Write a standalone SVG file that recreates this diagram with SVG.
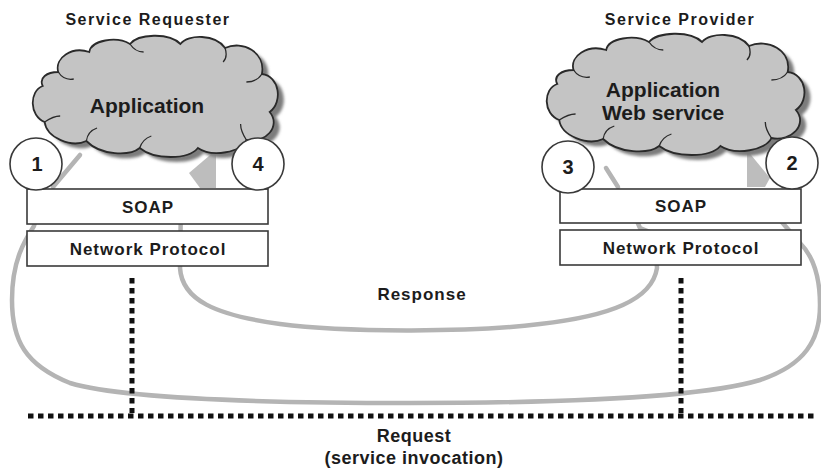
<svg xmlns="http://www.w3.org/2000/svg" width="821" height="468" viewBox="0 0 821 468">
<style>
.t{font-family:"Liberation Sans",Arial,sans-serif;font-weight:bold;fill:#1c1c1c;text-anchor:middle}
.ttl{font-size:16px;letter-spacing:1.5px}
.box{fill:#fff;stroke:#3a3a3a;stroke-width:1.6}
.lbl{font-size:17px;letter-spacing:1px}
.app{font-size:21px}
.num{font-size:20px}
.circ{fill:#fff;stroke:#3a3a3a;stroke-width:1.6}
.cloud{fill:#c4c4c4;stroke:#2a2a2a;stroke-width:1.8}
.shadow{fill:#7c7c7c;filter:url(#blur)}
.puff{fill:none;stroke:#2a2a2a;stroke-width:1.3}
.flow{fill:none;stroke:#b4b4b4;stroke-width:4.5;stroke-linecap:round;stroke-linejoin:round}
.arr{fill:#bdbdbd}
.dot{stroke:#111;stroke-width:5;stroke-dasharray:5.5 4.5;fill:none}
.req{font-size:18px;letter-spacing:0.5px}
</style>
<defs>
<filter id="blur" x="-10%" y="-10%" width="120%" height="120%"><feGaussianBlur stdDeviation="1.5"/></filter>
<path id="cloudShape" d="M 10 50 C -4 55, -4 80, 12 86 C 14 102, 40 112, 55 105 C 70 120, 100 120, 110 112 C 125 124, 160 124, 170 112 C 185 122, 215 116, 220 104 C 240 108, 256 90, 244 76 C 258 66, 254 40, 236 38 C 240 16, 216 4, 198 12 C 188 -2, 160 -2, 152 8 C 140 -4, 108 -2, 100 8 C 86 0, 60 4, 58 16 C 40 10, 22 22, 26 36 C 14 36, 6 42, 10 50 Z"/>
<path id="puffs" d="M 26 36 C 30 42, 36 44, 42 43 M 100 8 C 104 14, 108 16, 114 16 M 198 12 C 200 18, 200 22, 196 26 M 236 38 C 232 44, 226 46, 220 46 M 220 104 C 216 98, 214 94, 214 88 M 110 112 C 112 106, 116 102, 122 100 M 55 105 C 56 98, 60 94, 66 92 M 12 86 C 18 82, 22 80, 28 80"/>
</defs>

<g id="connectors">
  <path class="flow" d="M 181 200 L 180 268 C 182 300, 215 315, 280 324 C 340 332, 470 333, 540 324 C 610 316, 652 300, 657 268 L 655 234 L 640 228 L 632 210"/>
  <path class="flow" d="M 40 205 L 34 226 C 25 240, 12 260, 12 300 C 12 340, 25 365, 70 383 C 120 398, 250 403, 410 403 C 560 403, 700 398, 760 380 C 805 365, 820 340, 820 305 C 820 275, 812 255, 800 243 L 780 220"/>
  <line class="flow" x1="80" y1="155" x2="53" y2="187"/>
  <polygon class="arr" points="216,150 216,188 200,188 189,173"/>
  <line class="flow" x1="606" y1="168" x2="618" y2="187"/>
  <polygon class="arr" points="747,150 747,187 765,187 770,178"/>
</g>

<g id="requester-soap"><rect class="box" x="27" y="189" width="241" height="35"/><text class="t lbl" x="148" y="213">SOAP</text></g>
<g id="requester-network"><rect class="box" x="27" y="231" width="241" height="35"/><text class="t lbl" x="148" y="255">Network Protocol</text></g>
<g id="provider-soap"><rect class="box" x="560" y="189" width="241" height="34"/><text class="t lbl" x="681" y="212">SOAP</text></g>
<g id="provider-network"><rect class="box" x="560" y="230" width="241" height="35"/><text class="t lbl" x="681" y="254">Network Protocol</text></g>

<g id="requester-app">
  <use href="#cloudShape" class="shadow" transform="translate(39,41) scale(0.97,1.0)"/>
  <use href="#cloudShape" class="cloud" transform="translate(33,36) scale(0.97,1.0)"/>
  <use href="#puffs" class="puff" transform="translate(33,36) scale(0.97,1.0)"/>
  <text class="t app" x="147" y="113">Application</text>
</g>
<g id="provider-app">
  <use href="#cloudShape" class="shadow" transform="translate(553,39) scale(1.02,1.0)"/>
  <use href="#cloudShape" class="cloud" transform="translate(547,34) scale(1.02,1.0)"/>
  <use href="#puffs" class="puff" transform="translate(547,34) scale(1.02,1.0)"/>
  <text class="t app" x="663" y="97">Application</text>
  <text class="t app" x="663" y="120">Web service</text>
</g>

<g id="step1"><circle class="circ" cx="36" cy="164" r="26"/><text class="t num" x="37" y="171">1</text></g>
<g id="step4"><circle class="circ" cx="258" cy="164" r="26"/><text class="t num" x="258" y="171">4</text></g>
<g id="step3"><circle class="circ" cx="568" cy="167" r="26"/><text class="t num" x="568" y="174">3</text></g>
<g id="step2"><circle class="circ" cx="792" cy="163" r="26"/><text class="t num" x="792" y="170">2</text></g>

<g id="network">
  <line class="dot" x1="132" y1="278" x2="132" y2="413"/>
  <line class="dot" x1="681" y1="278" x2="681" y2="413"/>
  <line class="dot" x1="28" y1="416" x2="818" y2="416"/>
</g>

<text class="t ttl" x="148" y="25">Service Requester</text>
<text class="t ttl" x="680" y="25">Service Provider</text>
<text class="t lbl" x="422" y="300">Response</text>
<text class="t req" x="414" y="442">Request</text>
<text class="t req" x="414" y="464">(service invocation)</text>
</svg>
